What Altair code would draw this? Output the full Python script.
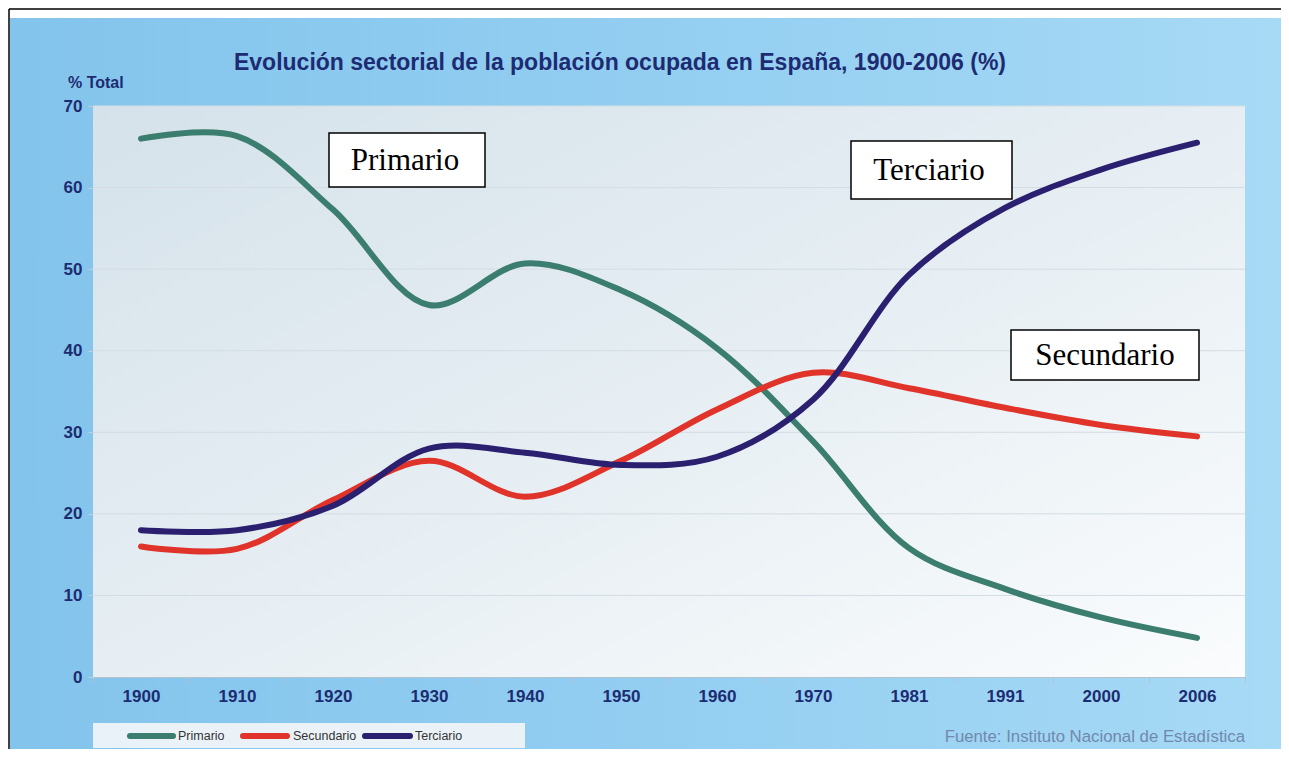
import altair as alt
import pandas as pd

# ---- data ----
years = ["1900", "1910", "1920", "1930", "1940", "1950", "1960", "1970", "1981", "1991", "2000", "2006"]
primario = [66.0, 66.3, 57.3, 45.6, 50.7, 47.4, 40.3, 28.9, 15.8, 10.8, 7.3, 4.8]
secundario = [16.0, 15.7, 21.7, 26.5, 22.1, 26.5, 32.8, 37.3, 35.4, 33.0, 30.9, 29.5]
terciario = [18.0, 18.0, 21.0, 28.0, 27.5, 26.0, 27.0, 34.0, 49.3, 57.5, 62.2, 65.5]
sectors = ["Primario", "Secundario", "Terciario"]
colors = ["#3b7d6e", "#e0342b", "#2b2070"]
y_ticks = [0, 10, 20, 30, 40, 50, 60, 70]

title_text = "Evolución sectorial de la población ocupada en España, 1900-2006 (%)"
ytitle_text = "% Total"
source_text = "Fuente: Instituto Nacional de Estadística"

rows = []
for s, vals in zip(sectors, [primario, secundario, terciario]):
    for yr, v in zip(years, vals):
        rows.append({"Año": yr, "Sector": s, "Valor": v})
df = pd.DataFrame(rows)
grid_df = pd.DataFrame({"Valor": y_ticks[1:]})
one = pd.DataFrame({"k": [0]})

W, H = 1152, 571
NAVY = "#1d2c72"
FONT = "Liberation Sans"

xenc = alt.X("Año:O", sort=years,
             scale=alt.Scale(type="band", paddingInner=0, paddingOuter=0),
             axis=alt.Axis(title=None, labelAngle=0, labelFont=FONT, labelFontWeight="bold",
                           labelFontSize=17, labelColor=NAVY, labelPadding=6,
                           tickBand="extent", tickSize=5, tickColor="#b4c2cc",
                           domainColor="#b4c2cc", grid=False, zindex=1))
yenc = alt.Y("Valor:Q", scale=alt.Scale(domain=[0, 70], nice=False),
             axis=alt.Axis(title=None, values=y_ticks, labelFont=FONT, labelFontWeight="bold",
                           labelFontSize=17, labelColor=NAVY, labelPadding=6,
                           tickSize=5, tickColor="#c3ced6", domain=False, grid=False, zindex=1))

blue_grad = {"gradient": "linear", "x1": 0, "y1": 0, "x2": 1, "y2": 0,
             "stops": [{"offset": 0, "color": "#83c4ec"}, {"offset": 0.5, "color": "#93cef1"},
                       {"offset": 1, "color": "#a7daf5"}]}
plot_grad = {"gradient": "linear", "x1": 0, "y1": 0, "x2": 1, "y2": 1,
             "stops": [{"offset": 0, "color": "#d5e2ea"}, {"offset": 0.5, "color": "#e6eef3"},
                       {"offset": 1, "color": "#fafcfd"}]}

layers = []

# background blue panel
layers.append(alt.Chart(one).mark_rect(fill=blue_grad).encode(
    x=alt.value(-83), x2=alt.value(1195), y=alt.value(-88), y2=alt.value(680)))
# outer frame lines
layers.append(alt.Chart(one).mark_rule(color="black", strokeWidth=1.5).encode(
    x=alt.value(-84), x2=alt.value(1195), y=alt.value(-97)))
layers.append(alt.Chart(one).mark_rule(color="black", strokeWidth=1.5).encode(
    x=alt.value(-84), y=alt.value(-97), y2=alt.value(680)))
# plot area
layers.append(alt.Chart(one).mark_rect(fill=plot_grad).encode(
    x=alt.value(0), x2=alt.value(W), y=alt.value(0), y2=alt.value(H)))
# gridlines
layers.append(alt.Chart(grid_df).mark_rule(color="#d3dce3", strokeWidth=1).encode(y=yenc))

# data lines
layers.append(alt.Chart(df).mark_line(strokeWidth=6, strokeCap="round", strokeJoin="round",
                                      interpolate="catmull-rom").encode(
    x=xenc, y=yenc,
    color=alt.Color("Sector:N", scale=alt.Scale(domain=sectors, range=colors), legend=None),
    detail="Sector:N"))

# annotation boxes
boxes = [("Primario", 236, 392, 27, 81, 312, 55),
         ("Terciario", 758, 919, 35, 93, 836, 65),
         ("Secundario", 918, 1106, 224, 274, 1012, 250)]
for label, x1, x2, y1, y2, tx, ty in boxes:
    layers.append(alt.Chart(one).mark_rect(fill="white", stroke="black", strokeWidth=1.5).encode(
        x=alt.value(x1), x2=alt.value(x2), y=alt.value(y1), y2=alt.value(y2)))
    layers.append(alt.Chart(one).mark_text(font="Liberation Serif", fontSize=31, color="black",
                                           align="center", baseline="middle").encode(
        x=alt.value(tx), y=alt.value(ty), text=alt.value(label)))

# legend
layers.append(alt.Chart(one).mark_rect(fill="#f2f5f8", opacity=0.92).encode(
    x=alt.value(0), x2=alt.value(432), y=alt.value(617), y2=alt.value(642)))
leg_pos = [(37, 80, 85), (150, 194, 200), (272, 317, 322)]
for s, c, (a, b, t) in zip(sectors, colors, leg_pos):
    layers.append(alt.Chart(one).mark_rule(color=c, strokeWidth=6, strokeCap="round").encode(
        x=alt.value(a), x2=alt.value(b), y=alt.value(630)))
    layers.append(alt.Chart(one).mark_text(font=FONT, fontSize=12.5, color="#333333",
                                           align="left", baseline="middle").encode(
        x=alt.value(t), y=alt.value(630), text=alt.value(s)))

# titles and source
layers.append(alt.Chart(one).mark_text(font=FONT, fontSize=23, fontWeight="bold", color=NAVY,
                                       align="center", baseline="alphabetic").encode(
    x=alt.value(527), y=alt.value(-36), text=alt.value(title_text)))
layers.append(alt.Chart(one).mark_text(font=FONT, fontSize=16, fontWeight="bold", color=NAVY,
                                       align="left", baseline="alphabetic").encode(
    x=alt.value(-25), y=alt.value(-18), text=alt.value(ytitle_text)))
layers.append(alt.Chart(one).mark_text(font=FONT, fontSize=16.8, color="#7189ac",
                                       align="right", baseline="alphabetic").encode(
    x=alt.value(W), y=alt.value(636), text=alt.value(source_text)))

chart = alt.layer(*layers).properties(
    width=W, height=H,
    autosize=alt.AutoSizeParams(type="none"),
    padding={"left": 85, "top": 98, "right": 36, "bottom": 72},
    background="white",
).configure_view(stroke=None)

chart.save("out.html", embed_options={"renderer": "svg", "actions": False})
